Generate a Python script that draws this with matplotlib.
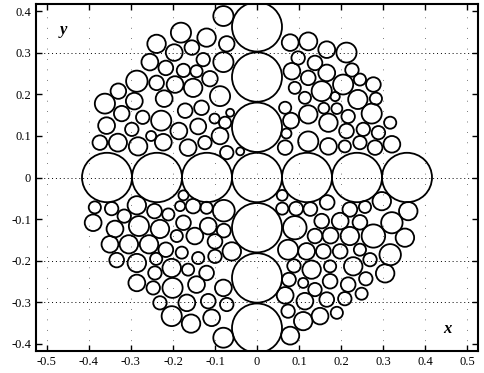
import matplotlib
matplotlib.use('Agg')
import matplotlib.pyplot as plt
import numpy as np

plt.rcParams['font.family'] = ['Liberation Serif', 'DejaVu Serif']

# big circles: row along x and column along y
big_x = [-0.357, -0.238, -0.119, 0.0, 0.119, 0.238, 0.357, 0.0, 0.0, 0.0, 0.0, 0.0, 0.0]
big_y = [0.0, 0.0, 0.0, 0.0, 0.0, 0.0, 0.0, 0.363, 0.242, 0.121, -0.121, -0.242, -0.363]
big_r = 0.0595

# small circles, upper left
ul_x = [-0.181, -0.239, -0.197, -0.155, -0.255, -0.217, -0.175, -0.144, -0.286, -0.239,
        -0.195, -0.152, -0.330, -0.362, -0.292, -0.221, -0.171, -0.322, -0.272, -0.228,
        -0.358, -0.298, -0.186, -0.374, -0.331, -0.283, -0.252, -0.223, -0.164, -0.140,
        -0.080, -0.120, -0.072, -0.128, -0.080, -0.112, -0.088, -0.132, -0.064, -0.101,
        -0.076, -0.088, -0.124, -0.072, -0.040]
ul_y = [0.349, 0.322, 0.301, 0.313, 0.278, 0.264, 0.258, 0.256, 0.232, 0.228,
        0.224, 0.216, 0.208, 0.178, 0.184, 0.190, 0.161, 0.154, 0.145, 0.137,
        0.125, 0.116, 0.112, 0.084, 0.084, 0.075, 0.100, 0.085, 0.072, 0.123,
        0.389, 0.337, 0.322, 0.284, 0.278, 0.238, 0.196, 0.168, 0.156, 0.142,
        0.132, 0.100, 0.084, 0.060, 0.063]
ul_r = [0.024, 0.022, 0.020, 0.0175, 0.020, 0.0175, 0.016, 0.0145, 0.0255, 0.0175,
        0.020, 0.022, 0.0185, 0.024, 0.020, 0.020, 0.0175, 0.0185, 0.016, 0.024,
        0.020, 0.016, 0.020, 0.0175, 0.0215, 0.022, 0.012, 0.020, 0.020, 0.019,
        0.024, 0.022, 0.0185, 0.016, 0.024, 0.0185, 0.024, 0.0175, 0.0095, 0.012,
        0.0145, 0.020, 0.016, 0.016, 0.0095]

# upper right
ur_x = [0.079, 0.122, 0.098, 0.166, 0.138, 0.083, 0.166, 0.122, 0.213, 0.226,
        0.090, 0.154, 0.114, 0.205, 0.245, 0.277, 0.186, 0.240, 0.283, 0.067,
        0.159, 0.190, 0.122, 0.217, 0.273, 0.081, 0.170, 0.317, 0.213, 0.253,
        0.289, 0.070, 0.122, 0.170, 0.209, 0.245, 0.281, 0.321, 0.067]
ur_y = [0.325, 0.328, 0.288, 0.308, 0.276, 0.256, 0.252, 0.240, 0.301, 0.259,
        0.216, 0.208, 0.192, 0.224, 0.236, 0.224, 0.195, 0.188, 0.190, 0.168,
        0.167, 0.166, 0.152, 0.147, 0.154, 0.137, 0.132, 0.132, 0.112, 0.116,
        0.108, 0.106, 0.087, 0.075, 0.075, 0.084, 0.072, 0.080, 0.072]
ur_r = [0.020, 0.0215, 0.016, 0.020, 0.0175, 0.020, 0.020, 0.0175, 0.024, 0.016,
        0.0145, 0.024, 0.0145, 0.024, 0.0145, 0.0175, 0.011, 0.023, 0.0145, 0.0145,
        0.013, 0.013, 0.022, 0.016, 0.024, 0.019, 0.022, 0.0145, 0.0175, 0.016,
        0.016, 0.012, 0.024, 0.020, 0.0145, 0.016, 0.0175, 0.020, 0.0175]

# lower left
ll_x = [-0.386, -0.346, -0.316, -0.286, -0.244, -0.211, -0.175, -0.183, -0.152, -0.120,
        -0.079, -0.390, -0.338, -0.281, -0.231, -0.191, -0.175, -0.148, -0.116, -0.079,
        -0.100, -0.060, -0.350, -0.305, -0.257, -0.217, -0.179, -0.140, -0.100, -0.334,
        -0.286, -0.240, -0.203, -0.164, -0.120, -0.243, -0.286, -0.247, -0.201, -0.144,
        -0.080, -0.231, -0.167, -0.116, -0.072, -0.203, -0.157, -0.108, -0.080]
ll_y = [-0.072, -0.075, -0.093, -0.067, -0.081, -0.089, -0.043, -0.069, -0.069, -0.073,
        -0.080, -0.109, -0.124, -0.117, -0.124, -0.141, -0.109, -0.141, -0.117, -0.128,
        -0.154, -0.178, -0.161, -0.161, -0.161, -0.174, -0.181, -0.194, -0.190, -0.199,
        -0.206, -0.196, -0.218, -0.222, -0.230, -0.230, -0.254, -0.266, -0.266, -0.258,
        -0.266, -0.302, -0.302, -0.298, -0.306, -0.334, -0.352, -0.338, -0.386]
ll_r = [0.0145, 0.016, 0.016, 0.022, 0.0175, 0.0145, 0.012, 0.012, 0.0175, 0.0145,
        0.026, 0.020, 0.020, 0.024, 0.022, 0.0145, 0.0175, 0.020, 0.020, 0.0165,
        0.0175, 0.022, 0.020, 0.022, 0.022, 0.0175, 0.0145, 0.0145, 0.016, 0.0175,
        0.022, 0.0145, 0.022, 0.0145, 0.0175, 0.016, 0.020, 0.016, 0.024, 0.020,
        0.020, 0.016, 0.020, 0.0175, 0.016, 0.024, 0.022, 0.020, 0.024]

# lower right
lr_x = [0.060, 0.060, 0.093, 0.127, 0.167, 0.221, 0.257, 0.297, 0.360, 0.090,
        0.154, 0.198, 0.245, 0.321, 0.138, 0.175, 0.221, 0.277, 0.352, 0.074,
        0.118, 0.158, 0.198, 0.245, 0.317, 0.269, 0.088, 0.130, 0.174, 0.229,
        0.305, 0.076, 0.110, 0.174, 0.138, 0.217, 0.259, 0.249, 0.067, 0.114,
        0.166, 0.209, 0.074, 0.150, 0.190, 0.110, 0.079]
lr_y = [-0.043, -0.075, -0.075, -0.076, -0.060, -0.077, -0.071, -0.057, -0.081, -0.121,
        -0.105, -0.105, -0.108, -0.109, -0.141, -0.140, -0.141, -0.141, -0.145, -0.174,
        -0.178, -0.178, -0.178, -0.174, -0.186, -0.198, -0.213, -0.222, -0.214, -0.214,
        -0.231, -0.246, -0.254, -0.250, -0.270, -0.258, -0.244, -0.280, -0.284, -0.298,
        -0.294, -0.292, -0.322, -0.334, -0.326, -0.346, -0.381]
lr_r = [0.013, 0.0145, 0.0165, 0.0165, 0.0175, 0.0175, 0.0145, 0.022, 0.022, 0.028,
        0.0175, 0.020, 0.0175, 0.0255, 0.0175, 0.019, 0.022, 0.028, 0.022, 0.024,
        0.020, 0.0175, 0.0175, 0.0145, 0.0255, 0.016, 0.016, 0.022, 0.0145, 0.022,
        0.022, 0.0165, 0.012, 0.0175, 0.016, 0.0175, 0.016, 0.0145, 0.020, 0.020,
        0.0175, 0.016, 0.016, 0.020, 0.0145, 0.022, 0.0215]

grid_y = [0.3, 0.0, -0.2, -0.3]
xticks = [-0.5, -0.4, -0.3, -0.2, -0.1, 0.0, 0.1, 0.2, 0.3, 0.4, 0.5]
yticks = [-0.4, -0.3, -0.2, -0.1, 0.0, 0.1, 0.2, 0.3, 0.4]

fig = plt.figure(figsize=(4.85, 3.73), dpi=100)
ax = fig.add_axes([36 / 485, 22 / 373, 442 / 485, 347 / 373])

for gy in grid_y:
    ax.axhline(gy, color='k', lw=0.7, ls=(0, (1, 3)), zorder=0)
for gx in xticks:
    ax.axvline(gx, color='k', lw=0.5, ls=(0, (1, 14)), zorder=0)

for cx, cy in zip(big_x, big_y):
    ax.add_patch(plt.Circle((cx, cy), big_r, fill=False, ec='k', lw=1.3))

for xs, ys, rs in [(ul_x, ul_y, ul_r), (ur_x, ur_y, ur_r), (ll_x, ll_y, ll_r), (lr_x, lr_y, lr_r)]:
    for cx, cy, cr in zip(xs, ys, rs):
        ax.add_patch(plt.Circle((cx, cy), cr, fill=False, ec='k', lw=1.3))

ax.set_xlim(-0.526, 0.526)
ax.set_ylim(-0.418, 0.418)
ax.set_xticks(xticks)
ax.set_yticks(yticks)
ax.set_xticklabels(['-0.5', '-0.4', '-0.3', '-0.2', '-0.1', '0', '0.1', '0.2', '0.3', '0.4', '0.5'])
ax.set_yticklabels(['-0.4', '-0.3', '-0.2', '-0.1', '0', '0.1', '0.2', '0.3', '0.4'])
ax.tick_params(direction='in', top=True, right=True, length=4, width=1, labelsize=9)
for s in ax.spines.values():
    s.set_linewidth(1.5)

ax.text(-0.46, 0.355, 'y', fontsize=12, style='italic', fontweight='bold', ha='center', va='center')
ax.text(0.452, -0.366, 'x', fontsize=12, style='italic', fontweight='bold', ha='center', va='center')

fig.savefig('out.png', dpi=100)
